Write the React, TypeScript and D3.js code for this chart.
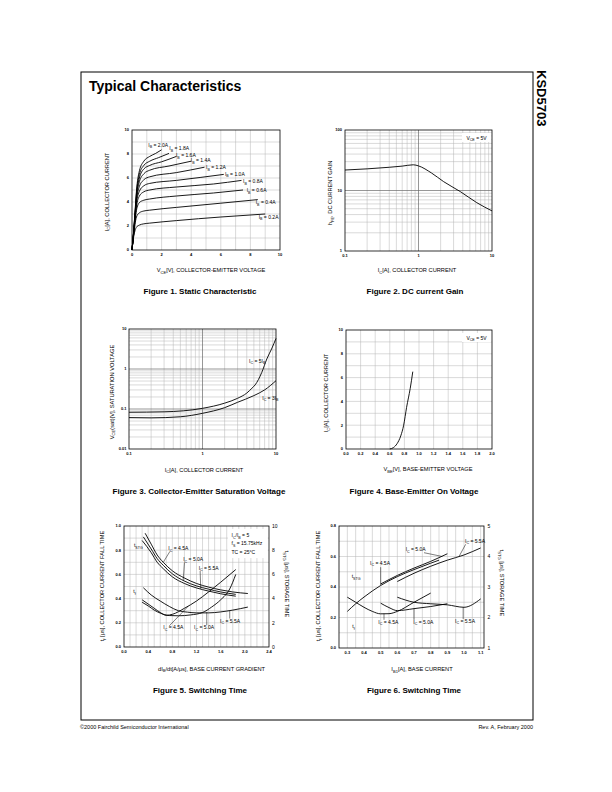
import React from 'react';
import * as d3 from 'd3';

type Pt = [number, number];

const FONT = '"Liberation Sans", Arial, Helvetica, sans-serif';
const GRID = '#b4b4b4';
const MAJOR = '#6a6a6a';
const CW = 0.9;

// ---------- Figure 1 : static characteristic ----------
const fig1XTicks = [0, 2, 4, 6, 8, 10];
const fig1YTicks = [0, 2, 4, 6, 8, 10];
const fig1IbNames = ['2.0A', '1.8A', '1.6A', '1.4A', '1.2A', '1.0A', '0.8A', '0.6A', '0.4A', '0.2A'];
const fig1Ib20: Pt[] = [[0, 0], [0.1, 1.4], [0.2, 3.1], [0.3, 4.9], [0.5, 6.6], [0.8, 7.4], [1.2, 7.8], [1.6, 8.05], [2.0, 8.35]];
const fig1Ib18: Pt[] = [[0, 0], [0.1, 1.4], [0.2, 3.0], [0.3, 4.7], [0.5, 6.3], [0.8, 7.05], [1.2, 7.4], [1.8, 7.7], [2.5, 8.05]];
const fig1Ib16: Pt[] = [[0, 0], [0.1, 1.35], [0.2, 2.9], [0.3, 4.5], [0.5, 6.0], [0.8, 6.75], [1.2, 7.05], [2, 7.35], [3, 7.8]];
const fig1Ib14: Pt[] = [[0, 0], [0.1, 1.3], [0.2, 2.8], [0.3, 4.3], [0.5, 5.7], [0.8, 6.35], [1.2, 6.65], [2.5, 7.0], [4, 7.4]];
const fig1Ib12: Pt[] = [[0, 0], [0.1, 1.3], [0.2, 2.7], [0.3, 4.1], [0.5, 5.3], [0.8, 5.85], [1.2, 6.1], [3, 6.45], [4.9, 6.9]];
const fig1Ib10: Pt[] = [[0, 0], [0.1, 1.3], [0.2, 2.6], [0.3, 3.9], [0.5, 4.9], [0.8, 5.35], [1.2, 5.55], [3, 5.8], [6.2, 6.3]];
const fig1Ib08: Pt[] = [[0, 0], [0.1, 1.2], [0.2, 2.5], [0.3, 3.6], [0.5, 4.5], [0.8, 4.85], [1.2, 5.0], [3, 5.25], [5.5, 5.5], [7.4, 5.8]];
const fig1Ib06: Pt[] = [[0, 0], [0.1, 1.2], [0.2, 2.4], [0.3, 3.3], [0.5, 3.95], [0.8, 4.15], [1.2, 4.25], [3, 4.5], [5.5, 4.75], [7.5, 5.0]];
const fig1Ib04: Pt[] = [[0, 0], [0.1, 1.1], [0.2, 2.1], [0.3, 2.75], [0.5, 3.1], [0.8, 3.25], [1.2, 3.32], [3, 3.55], [6, 3.9], [8.5, 4.2]];
const fig1Ib02: Pt[] = [[0, 0], [0.1, 1.0], [0.2, 1.6], [0.3, 1.9], [0.5, 2.08], [0.8, 2.18], [1.2, 2.24], [3, 2.45], [6, 2.75], [9, 3.0]];
const fig1Curves = [fig1Ib20, fig1Ib18, fig1Ib16, fig1Ib14, fig1Ib12, fig1Ib10, fig1Ib08, fig1Ib06, fig1Ib04, fig1Ib02];

// ---------- Figure 2 : DC current gain ----------
const fig2XTicks = [0.1, 1, 10];
const fig2XTickLabels = ['0.1', '1', '10'];
const fig2YTicks = [1, 10, 100];
const fig2YTickLabels = ['1', '10', '100'];
const fig2Gain: Pt[] = [[0.1, 21.8], [0.2, 22.8], [0.4, 24.2], [0.6, 25.3], [0.85, 26.6], [1, 25.5], [1.5, 19.5], [2.2, 14], [3.7, 9.6], [6.2, 6.3], [10, 4.6]];

// ---------- Figure 3 : saturation voltage ----------
const fig3XTicks = [0.1, 1, 10];
const fig3XTickLabels = ['0.1', '1', '10'];
const fig3YTicks = [0.01, 0.1, 1, 10];
const fig3YTickLabels = ['0.01', '0.1', '1', '10'];
const fig3Ic5Ib: Pt[] = [[0.1, 0.083], [0.3, 0.085], [1, 0.104], [2, 0.14], [3, 0.185], [4, 0.25], [4.7, 0.33], [5.2, 0.4], [6.4, 0.82], [7.5, 1.78], [8.7, 3.16], [10, 5.8]];
const fig3Ic3Ib: Pt[] = [[0.1, 0.061], [0.2, 0.06], [0.5, 0.064], [1, 0.078], [2, 0.108], [3, 0.147], [5, 0.216], [7, 0.3], [10, 0.51]];

// ---------- Figure 4 : base-emitter on voltage ----------
const fig4XTicks = [0, 0.2, 0.4, 0.6, 0.8, 1.0, 1.2, 1.4, 1.6, 1.8, 2.0];
const fig4XTickLabels = ['0.0', '0.2', '0.4', '0.6', '0.8', '1.0', '1.2', '1.4', '1.6', '1.8', '2.0'];
const fig4YTicks = [0, 2, 4, 6, 8, 10];
const fig4Vbe: Pt[] = [[0.6, 0], [0.65, 0.12], [0.7, 0.45], [0.75, 1.1], [0.79, 2.0], [0.83, 3.5], [0.88, 5.1], [0.915, 6.5]];

// ---------- Figure 5 : switching time vs dIB/dt ----------
const fig5XTicks = [0, 0.4, 0.8, 1.2, 1.6, 2.0, 2.4];
const fig5XTickLabels = ['0.0', '0.4', '0.8', '1.2', '1.6', '2.0', '2.4'];
const fig5YLTicks = [0, 0.2, 0.4, 0.6, 0.8, 1.0];
const fig5YLTickLabels = ['0.0', '0.2', '0.4', '0.6', '0.8', '1.0'];
const fig5YRTicks = [0, 2, 4, 6, 8, 10];
const fig5Tstg45: Pt[] = [[0.35, 9.4], [0.45, 8.5], [0.55, 7.6], [0.65, 7.0], [0.8, 6.3], [1.0, 5.7], [1.2, 5.25], [1.4, 4.95], [1.6, 4.72], [1.8, 4.55], [2.05, 4.42]];
const fig5Tstg50: Pt[] = [[0.32, 9.1], [0.45, 8.1], [0.55, 7.3], [0.65, 6.75], [0.8, 6.05], [1.0, 5.45], [1.2, 5.05], [1.4, 4.78], [1.6, 4.55], [1.85, 4.35]];
const fig5Tstg55: Pt[] = [[0.3, 8.8], [0.45, 7.8], [0.55, 7.0], [0.65, 6.47], [0.8, 5.8], [1.0, 5.25], [1.2, 4.88], [1.4, 4.62], [1.6, 4.4], [1.85, 4.2]];
const fig5Tf45: Pt[] = [[0.3, 0.39], [0.4, 0.355], [0.5, 0.32], [0.6, 0.285], [0.7, 0.262], [0.8, 0.27], [1.0, 0.32], [1.2, 0.38], [1.4, 0.455], [1.6, 0.535], [1.85, 0.64]];
const fig5Tf50: Pt[] = [[0.3, 0.37], [0.4, 0.34], [0.5, 0.305], [0.6, 0.28], [0.75, 0.26], [0.9, 0.258], [1.1, 0.265], [1.3, 0.285], [1.45, 0.33], [1.6, 0.39], [1.75, 0.48], [1.85, 0.6]];
const fig5Tf55: Pt[] = [[0.32, 0.49], [0.45, 0.43], [0.6, 0.38], [0.75, 0.335], [0.9, 0.3], [1.05, 0.288], [1.2, 0.282], [1.4, 0.282], [1.6, 0.29], [1.8, 0.305], [2.05, 0.33]];

// ---------- Figure 6 : switching time vs IB1 ----------
const fig6XTicks = [0.3, 0.4, 0.5, 0.6, 0.7, 0.8, 0.9, 1.0, 1.1];
const fig6XTickLabels = ['0.3', '0.4', '0.5', '0.6', '0.7', '0.8', '0.9', '1.0', '1.1'];
const fig6YLTicks = [0, 0.2, 0.4, 0.6, 0.8];
const fig6YLTickLabels = ['0.0', '0.2', '0.4', '0.6', '0.8'];
const fig6YRTicks = [1, 2, 3, 4, 5];
const fig6Tstg45: Pt[] = [[0.3, 2.2], [0.35, 2.45], [0.4, 2.67], [0.45, 2.87], [0.5, 3.05], [0.6, 3.34], [0.7, 3.57], [0.8, 3.78], [0.85, 3.88]];
const fig6Tstg50: Pt[] = [[0.5, 3.1], [0.6, 3.38], [0.7, 3.62], [0.8, 3.84], [0.9, 4.09]];
const fig6Tstg55: Pt[] = [[0.6, 3.18], [0.7, 3.45], [0.8, 3.68], [0.9, 3.88], [1.0, 4.05], [1.1, 4.28]];
const fig6Tf45: Pt[] = [[0.3, 0.333], [0.35, 0.3], [0.4, 0.267], [0.45, 0.24], [0.5, 0.224], [0.55, 0.225], [0.6, 0.24], [0.7, 0.3], [0.8, 0.36]];
const fig6Tf50: Pt[] = [[0.5, 0.294], [0.55, 0.265], [0.6, 0.245], [0.7, 0.258], [0.8, 0.272], [0.9, 0.29]];
const fig6Tf55: Pt[] = [[0.6, 0.333], [0.7, 0.3], [0.8, 0.29], [0.9, 0.283], [1.0, 0.267], [1.1, 0.322]];

// ---------- helpers ----------
function T({ x, y, s, size = 5.5, anchor = 'start', weight = 400, rotate = 0, fill = '#000' }: any) {
  const parts: string[] = s.split(/(_\{[^}]*\})/).filter((p: string) => p.length > 0);
  let sub = false;
  const kids: any[] = [];
  parts.forEach((p, i) => {
    if (p.startsWith('_{')) {
      kids.push(<tspan key={i} dy={sub ? 0 : size * 0.3} fontSize={size * 0.72}>{p.slice(2, -1)}</tspan>);
      sub = true;
    } else {
      kids.push(<tspan key={i} dy={sub ? -size * 0.3 : 0}>{p}</tspan>);
      sub = false;
    }
  });
  return (
    <text x={x} y={y} fontSize={size} textAnchor={anchor} fontWeight={weight} fontFamily={FONT} fill={fill}
      transform={rotate ? `rotate(${rotate} ${x} ${y})` : undefined}>{kids}</text>
  );
}

function gridV(vals: number[], x: (v: number) => number, top: number, bottom: number, stroke = GRID, k = 'v', w = 0.5) {
  return vals.map((v, i) => <line key={k + i} x1={x(v)} x2={x(v)} y1={top} y2={bottom} stroke={stroke} strokeWidth={w} />);
}
function gridH(vals: number[], y: (v: number) => number, left: number, right: number, stroke = GRID, k = 'h', w = 0.5) {
  return vals.map((v, i) => <line key={k + i} x1={left} x2={right} y1={y(v)} y2={y(v)} stroke={stroke} strokeWidth={w} />);
}
function logMinor(min: number, max: number) {
  const out: number[] = [];
  for (let e = Math.round(Math.log10(min)); e < Math.round(Math.log10(max)); e++) {
    for (let m = 2; m < 10; m++) out.push(m * Math.pow(10, e));
  }
  return out;
}
function Frame({ L, R, Tp, B }: any) {
  return <rect x={L} y={Tp} width={R - L} height={B - Tp} fill="none" stroke="#000" strokeWidth={0.8} />;
}
function Curve({ d }: any) {
  return <path d={d} fill="none" stroke="#000" strokeWidth={CW} strokeLinejoin="round" />;
}
function Lead({ x1, y1, x2, y2 }: any) {
  return <line x1={x1} y1={y1} x2={x2} y2={y2} stroke="#000" strokeWidth={0.5} />;
}

// ---------- figures ----------
function Fig1() {
  const L = 132, R = 280, Tp = 130, B = 250;
  const x = d3.scaleLinear().domain([0, 10]).range([L, R]);
  const y = d3.scaleLinear().domain([0, 10]).range([B, Tp]);
  const line = d3.line<Pt>().x(d => x(d[0])).y(d => y(d[1])).curve(d3.curveMonotoneX);
  const lab: Pt[] = [[1.1, 8.6], [2.52, 8.33], [2.97, 7.75], [3.97, 7.33], [5.0, 6.75], [6.28, 6.17], [7.5, 5.58], [7.75, 4.83], [8.36, 3.83], [8.56, 2.6]];
  return (
    <g>
      {gridV(d3.range(1, 10), x, Tp, B)}
      {gridH(d3.range(1, 10), y, L, R)}
      {fig1Curves.map((c, i) => <Curve key={i} d={line(c)} />)}
      {fig1IbNames.map((n, i) => <T key={'l' + i} x={x(lab[i][0])} y={y(lab[i][1])} s={`I_{B} = ${n}`} size={5} />)}
      <Frame L={L} R={R} Tp={Tp} B={B} />
      {fig1XTicks.map(v => <T key={'xt' + v} x={x(v)} y={B + 5.5} s={String(v)} size={4} weight={700} anchor="middle" />)}
      {fig1YTicks.map(v => <T key={'yt' + v} x={L - 3} y={y(v) + 1.4} s={String(v)} size={4} weight={700} anchor="end" />)}
      <T x={108.5} y={192} rotate={-90} anchor="middle" s="I_{C}[A], COLLECTOR CURRENT" size={5.7} />
      <T x={211} y={272.3} anchor="middle" s="V_{CE}[V], COLLECTOR-EMITTER VOLTAGE" size={5.7} />
      <T x={200} y={294} anchor="middle" s="Figure 1. Static Characteristic" size={8} weight={700} />
    </g>
  );
}

function Fig2() {
  const L = 345, R = 492, Tp = 130, B = 251;
  const x = d3.scaleLog().domain([0.1, 10]).range([L, R]);
  const y = d3.scaleLog().domain([1, 100]).range([B, Tp]);
  const line = d3.line<Pt>().x(d => x(d[0])).y(d => y(d[1])).curve(d3.curveMonotoneX);
  return (
    <g>
      {gridV(logMinor(0.1, 10), x, Tp, B)}
      {gridH(logMinor(1, 100), y, L, R)}
      {gridV([1], x, Tp, B, MAJOR, 'vm', 0.7)}
      {gridH([10], y, L, R, MAJOR, 'hm', 0.7)}
      <Curve d={line(fig2Gain)} />
      <rect x={R - 30} y={Tp + 3} width={29.5} height={9} fill="#fff" />
      <T x={R - 15.5} y={Tp + 9.5} s="V_{CE} = 5V" size={5} anchor="middle" />
      <Frame L={L} R={R} Tp={Tp} B={B} />
      {fig2XTicks.map((v, i) => <T key={'xt' + i} x={x(v)} y={B + 5.5} s={fig2XTickLabels[i]} size={4} weight={700} anchor="middle" />)}
      {fig2YTicks.map((v, i) => <T key={'yt' + i} x={L - 3} y={y(v) + 1.4} s={fig2YTickLabels[i]} size={4} weight={700} anchor="end" />)}
      <T x={332} y={193} rotate={-90} anchor="middle" s="h_{FE}, DC CURRENT GAIN" size={5.7} />
      <T x={417} y={272} anchor="middle" s="I_{C}[A], COLLECTOR CURRENT" size={5.7} />
      <T x={415} y={294} anchor="middle" s="Figure 2. DC current Gain" size={8} weight={700} />
    </g>
  );
}

function Fig3() {
  const L = 129, R = 276, Tp = 329, B = 449;
  const x = d3.scaleLog().domain([0.1, 10]).range([L, R]);
  const y = d3.scaleLog().domain([0.01, 10]).range([B, Tp]);
  const line = d3.line<Pt>().x(d => x(d[0])).y(d => y(d[1])).curve(d3.curveMonotoneX);
  return (
    <g>
      {gridV(logMinor(0.1, 10), x, Tp, B)}
      {gridH(logMinor(0.01, 10), y, L, R)}
      {gridV([1], x, Tp, B, MAJOR, 'vm', 0.7)}
      {gridH([0.1, 1], y, L, R, MAJOR, 'hm', 0.7)}
      <Curve d={line(fig3Ic5Ib)} />
      <Curve d={line(fig3Ic3Ib)} />
      <T x={x(4.3)} y={y(1.44)} s="I_{C} = 5I_{B}" size={5} />
      <T x={x(6.5)} y={y(0.168)} s="I_{C} = 3I_{B}" size={5} />
      <Frame L={L} R={R} Tp={Tp} B={B} />
      {fig3XTicks.map((v, i) => <T key={'xt' + i} x={x(v)} y={B + 5.5} s={fig3XTickLabels[i]} size={4} weight={700} anchor="middle" />)}
      {fig3YTicks.map((v, i) => <T key={'yt' + i} x={L - 2.5} y={y(v) + 1.4} s={fig3YTickLabels[i]} size={4} weight={700} anchor="end" />)}
      <T x={113.5} y={392} rotate={-90} anchor="middle" s="V_{CE}(sat)[V], SATURATION VOLTAGE" size={5.7} />
      <T x={204} y={471.5} anchor="middle" s="I_{C}[A], COLLECTOR CURRENT" size={5.7} />
      <T x={199} y={494} anchor="middle" s="Figure 3. Collector-Emitter Saturation Voltage" size={8} weight={700} />
    </g>
  );
}

function Fig4() {
  const L = 346, R = 492, Tp = 330, B = 449;
  const x = d3.scaleLinear().domain([0, 2]).range([L, R]);
  const y = d3.scaleLinear().domain([0, 10]).range([B, Tp]);
  const line = d3.line<Pt>().x(d => x(d[0])).y(d => y(d[1])).curve(d3.curveMonotoneX);
  return (
    <g>
      {gridV(fig4XTicks.slice(1, -1), x, Tp, B)}
      {gridH(d3.range(1, 10), y, L, R)}
      <Curve d={line(fig4Vbe)} />
      <rect x={R - 30} y={Tp + 3} width={29.5} height={9} fill="#fff" />
      <T x={R - 15.5} y={Tp + 9.5} s="V_{CE} = 5V" size={5} anchor="middle" />
      <Frame L={L} R={R} Tp={Tp} B={B} />
      {fig4XTicks.map((v, i) => <T key={'xt' + i} x={x(v)} y={B + 5.5} s={fig4XTickLabels[i]} size={4} weight={700} anchor="middle" />)}
      {fig4YTicks.map(v => <T key={'yt' + v} x={L - 3} y={y(v) + 1.4} s={String(v)} size={4} weight={700} anchor="end" />)}
      <T x={328} y={393} rotate={-90} anchor="middle" s="I_{C}[A], COLLECTOR CURRENT" size={5.7} />
      <T x={428} y={471} anchor="middle" s="V_{BE}[V], BASE-EMITTER VOLTAGE" size={5.7} />
      <T x={414} y={494} anchor="middle" s="Figure 4. Base-Emitter On Voltage" size={8} weight={700} />
    </g>
  );
}

function Fig5() {
  const L = 124, R = 269, Tp = 526, B = 647;
  const x = d3.scaleLinear().domain([0, 2.4]).range([L, R]);
  const yL = d3.scaleLinear().domain([0, 1]).range([B, Tp]);
  const yR = d3.scaleLinear().domain([0, 10]).range([B, Tp]);
  const lineR = d3.line<Pt>().x(d => x(d[0])).y(d => yR(d[1])).curve(d3.curveMonotoneX);
  const lineL = d3.line<Pt>().x(d => x(d[0])).y(d => yL(d[1])).curve(d3.curveMonotoneX);
  return (
    <g>
      {gridV(d3.range(1, 24).map(i => i / 10), x, Tp, B)}
      {gridH(d3.range(1, 10).map(i => i / 10), yL, L, R)}
      <rect x={x(1.72)} y={yL(0.975)} width={x(2.38) - x(1.72)} height={yL(0.735) - yL(0.975)} fill="#fff" />
      <T x={x(1.78)} y={yL(0.909)} s="I_{C}/I_{B} = 5" size={5} />
      <T x={x(1.78)} y={yL(0.84)} s="f_{S} = 15.75kHz" size={5} />
      <T x={x(1.78)} y={yL(0.766)} s="TC = 25°C" size={5} />
      {[fig5Tstg45, fig5Tstg50, fig5Tstg55].map((c, i) => <Curve key={'s' + i} d={lineR(c)} />)}
      {[fig5Tf45, fig5Tf50, fig5Tf55].map((c, i) => <Curve key={'f' + i} d={lineL(c)} />)}
      <T x={x(0.165)} y={yL(0.826)} s="t_{STG}" size={5} />
      <T x={x(0.154)} y={yL(0.446)} s="t_{f}" size={5} />
      <T x={x(0.733)} y={yL(0.80)} s="I_{C} = 4.5A" size={5} />
      <Lead x1={x(0.76)} y1={yL(0.79)} x2={x(0.65)} y2={yR(7.0)} />
      <T x={x(0.98)} y={yL(0.708)} s="I_{C} = 5.0A" size={5} />
      <Lead x1={x(1.0)} y1={yL(0.698)} x2={x(0.98)} y2={yR(5.5)} />
      <T x={x(1.236)} y={yL(0.639)} s="I_{C} = 5.5A" size={5} />
      <Lead x1={x(1.26)} y1={yL(0.629)} x2={x(1.27)} y2={yR(4.8)} />
      <T x={x(0.65)} y={yL(0.146)} s="I_{C} = 4.5A" size={5} />
      <Lead x1={x(0.75)} y1={yL(0.175)} x2={x(1.06)} y2={yL(0.335)} />
      <T x={x(1.16)} y={yL(0.146)} s="I_{C} = 5.0A" size={5} />
      <Lead x1={x(1.37)} y1={yL(0.18)} x2={x(1.37)} y2={yL(0.29)} />
      <T x={x(1.59)} y={yL(0.2)} s="I_{C} = 5.5A" size={5} />
      <Lead x1={x(1.75)} y1={yL(0.235)} x2={x(1.75)} y2={yL(0.298)} />
      <Frame L={L} R={R} Tp={Tp} B={B} />
      {fig5XTicks.map((v, i) => <T key={'xt' + i} x={x(v)} y={B + 5.5} s={fig5XTickLabels[i]} size={4} weight={700} anchor="middle" />)}
      {fig5YLTicks.map((v, i) => <T key={'yl' + i} x={L - 3} y={yL(v) + 1.4} s={fig5YLTickLabels[i]} size={4} weight={700} anchor="end" />)}
      {fig5YRTicks.map(v => <T key={'yr' + v} x={R + 3} y={yR(v) + 1.8} s={String(v)} size={5} anchor="start" />)}
      <T x={104} y={586} rotate={-90} anchor="middle" s="t_{f} [μs], COLLECTOR CURRENT FALL TIME" size={5.7} />
      <T x={285} y={584} rotate={90} anchor="middle" s="t_{STG} [μs], STORAGE TIME" size={5.7} />
      <T x={211.5} y={670.5} anchor="middle" s="dI_{B}/dt[A/μs], BASE CURRENT GRADIENT" size={5.7} />
      <T x={200} y={693} anchor="middle" s="Figure 5. Switching Time" size={8} weight={700} />
    </g>
  );
}

function Fig6() {
  const L = 339, R = 484, Tp = 526, B = 648;
  const x = d3.scaleLinear().domain([0.25, 1.12]).range([L, R]);
  const yL = d3.scaleLinear().domain([0, 0.8]).range([B, Tp]);
  const yR = d3.scaleLinear().domain([1, 5]).range([B, Tp]);
  const lineR = d3.line<Pt>().x(d => x(d[0])).y(d => yR(d[1])).curve(d3.curveMonotoneX);
  const lineL = d3.line<Pt>().x(d => x(d[0])).y(d => yL(d[1])).curve(d3.curveMonotoneX);
  return (
    <g>
      {gridV(d3.range(6, 23).map(i => i * 0.05), x, Tp, B)}
      {gridH(d3.range(1, 8).map(i => i / 10), yL, L, R)}
      {[fig6Tstg45, fig6Tstg50, fig6Tstg55].map((c, i) => <Curve key={'s' + i} d={lineR(c)} />)}
      {[fig6Tf45, fig6Tf50, fig6Tf55].map((c, i) => <Curve key={'f' + i} d={lineL(c)} />)}
      <T x={x(0.326)} y={yL(0.459)} s="t_{STG}" size={5} />
      <T x={x(0.33)} y={yL(0.131)} s="t_{f}" size={5} />
      <T x={x(1.006)} y={yL(0.69)} s="I_{C} = 5.5A" size={5} />
      <Lead x1={x(1.01)} y1={yL(0.68)} x2={x(0.97)} y2={yR(4.0)} />
      <T x={x(0.65)} y={yL(0.634)} s="I_{C} = 5.0A" size={5} />
      <Lead x1={x(0.76)} y1={yL(0.625)} x2={x(0.87)} y2={yR(4.0)} />
      <T x={x(0.436)} y={yL(0.546)} s="I_{C} = 4.5A" size={5} />
      <Lead x1={x(0.5)} y1={yL(0.53)} x2={x(0.5)} y2={yR(3.07)} />
      <T x={x(0.486)} y={yL(0.159)} s="I_{C} = 4.5A" size={5} />
      <Lead x1={x(0.52)} y1={yL(0.185)} x2={x(0.52)} y2={yL(0.225)} />
      <T x={x(0.696)} y={yL(0.159)} s="I_{C} = 5.0A" size={5} />
      <Lead x1={x(0.7)} y1={yL(0.185)} x2={x(0.7)} y2={yL(0.258)} />
      <T x={x(0.946)} y={yL(0.166)} s="I_{C} = 5.5A" size={5} />
      <Lead x1={x(0.995)} y1={yL(0.19)} x2={x(0.995)} y2={yL(0.268)} />
      <Frame L={L} R={R} Tp={Tp} B={B} />
      {fig6XTicks.map((v, i) => <T key={'xt' + i} x={x(v)} y={B + 5.5} s={fig6XTickLabels[i]} size={4} weight={700} anchor="middle" />)}
      {fig6YLTicks.map((v, i) => <T key={'yl' + i} x={L - 3} y={yL(v) + 1.4} s={fig6YLTickLabels[i]} size={4} weight={700} anchor="end" />)}
      {fig6YRTicks.map(v => <T key={'yr' + v} x={R + 3.5} y={yR(v) + 1.8} s={String(v)} size={5} anchor="start" />)}
      <T x={320} y={586} rotate={-90} anchor="middle" s="t_{f} [μs], COLLECTOR CURRENT FALL TIME" size={5.7} />
      <T x={500} y={583} rotate={90} anchor="middle" s="t_{STG} [μs], STORAGE TIME" size={5.7} />
      <T x={422} y={671} anchor="middle" s="I_{B1}[A], BASE CURRENT" size={5.7} />
      <T x={414} y={693} anchor="middle" s="Figure 6. Switching Time" size={8} weight={700} />
    </g>
  );
}

export default function App() {
  return (
    <svg width={612} height={792} viewBox="0 0 612 792" style={{ position: 'absolute', left: 0, top: 0 }}>
      <rect x={0} y={0} width={612} height={792} fill="#fff" />
      <rect x={81} y={72} width={452} height={648} fill="none" stroke="#000" strokeWidth={1} />
      <T x={89} y={91} s="Typical Characteristics" size={14} weight={700} />
      <T x={537} y={70} s="KSD5703" size={13} weight={700} rotate={90} />
      <Fig1 />
      <Fig2 />
      <Fig3 />
      <Fig4 />
      <Fig5 />
      <Fig6 />
      <T x={80} y={729} s="©2000 Fairchild Semiconductor International" size={5.5} />
      <T x={533} y={729} s="Rev. A, February 2000" size={5.5} anchor="end" />
    </svg>
  );
}
